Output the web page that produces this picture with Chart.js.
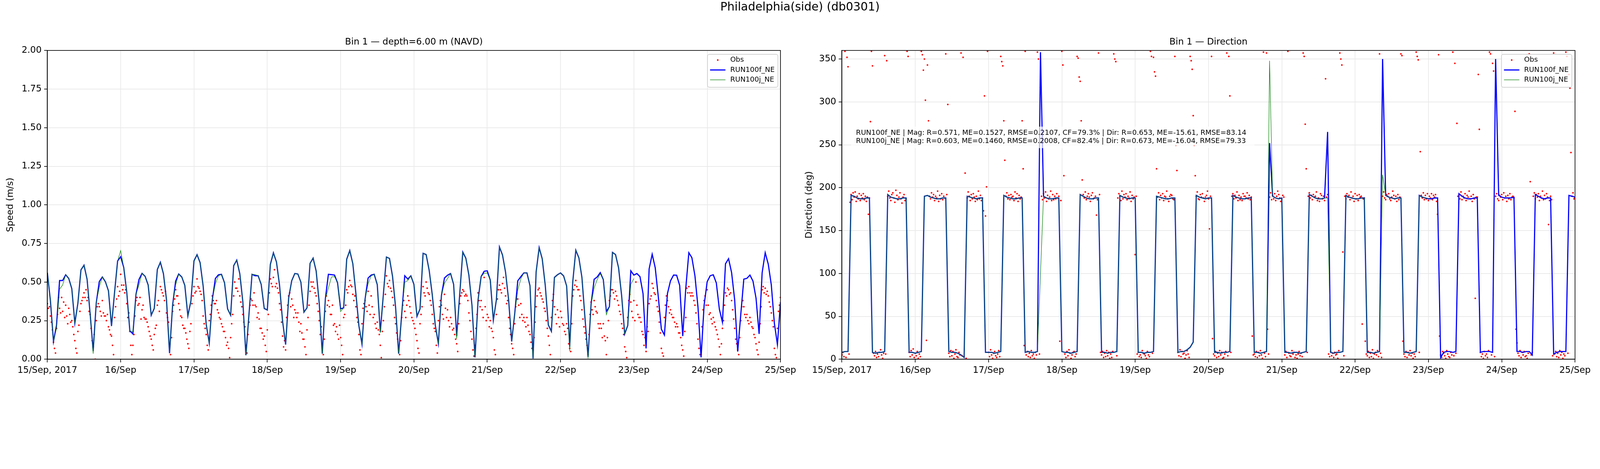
<!DOCTYPE html>
<html>
<head>
<meta charset="utf-8">
<title>Philadelphia(side) (db0301)</title>
<script src="https://cdn.jsdelivr.net/npm/chart.js@4.4.1/dist/chart.umd.min.js"></script>
<style>
  html, body { margin: 0; padding: 0; background: #fff; overflow: hidden; }
  #wrap { position: relative; overflow: hidden; }
  #page { position: absolute; left: 0; top: 0; width: 5000px; height: 1200px;
          transform-origin: 0 0; font-family: 'DejaVu Sans', sans-serif; }
  canvas { position: absolute; top: 0; }
  #speedChart { left: 0; }
  #dirChart { left: 2500px; }
  #suptitle { position: absolute; left: 0; top: 0; width: 5000px; text-align: center;
              font-size: 36px; line-height: 42px; color: #000; }
</style>
</head>
<body>
<div id="wrap">
  <div id="page">
    <canvas id="speedChart" width="2500" height="1200"></canvas>
    <canvas id="dirChart" width="2500" height="1200"></canvas>
    <div id="suptitle">Philadelphia(side) (db0301)</div>
  </div>
</div>
<script>
const FONT = "'DejaVu Sans', sans-serif";
const GRID = '#e8e8e8';

// x axis: hours since 15/Sep 00:00, one label per day
const dayLabels = ['15/Sep, 2017', '16/Sep', '17/Sep', '18/Sep', '19/Sep', '20/Sep',
                   '21/Sep', '22/Sep', '23/Sep', '24/Sep', '25/Sep'];

// model speed (m/s), hourly
const speedF = [
  .56,.38,.115,.22,.51,.51,.547,.523,.457,.234,.364,.579,
  .609,.519,.295,.053,.364,.503,.533,.502,.443,.215,.433,.637,
  .664,.595,.433,.184,.164,.419,.517,.556,.537,.481,.285,.329,
  .581,.628,.554,.385,.039,.35,.506,.552,.533,.478,.281,.378,
  .637,.677,.626,.474,.226,.105,.385,.523,.547,.55,.495,.326,
  .285,.606,.642,.554,.371,.026,.29,.55,.541,.541,.485,.329,
  .319,.614,.689,.63,.481,.247,.095,.398,.509,.555,.552,.499,
  .305,.333,.621,.655,.571,.364,.036,.39,.55,.548,.545,.495,
  .326,.333,.648,.704,.619,.426,.215,.098,.388,.526,.545,.55,
  .483,.177,.42,.662,.653,.537,.336,.036,.29,.541,.519,.54,
  .485,.278,.326,.686,.678,.575,.419,.219,.102,.412,.526,.544,
  .555,.485,.15,.423,.694,.654,.544,.35,.012,.385,.535,.57,
  .573,.512,.253,.385,.727,.675,.564,.385,.115,.295,.508,.535,
  .559,.559,.476,.005,.564,.723,.651,.478,.222,.181,.53,.547,
  .559,.54,.474,.081,.502,.706,.657,.53,.267,.015,.357,.518,
  .533,.561,.516,.309,.34,.692,.678,.592,.412,.164,.218,.573,
  .545,.555,.535,.426,.07,.585,.68,.592,.405,.195,.157,.426,
  .508,.545,.544,.478,.15,.46,.69,.657,.54,.336,.012,.35,
  .502,.541,.547,.494,.323,.24,.618,.651,.561,.385,.05,.29,
  .519,.524,.545,.506,.395,.164,.561,.69,.616,.481,.233,.095,
  .371
];
const speedJ = [
  .56,.38,.115,.20,.454,.481,.547,.523,.457,.234,.364,.579,
  .609,.519,.295,.036,.364,.468,.533,.502,.443,.215,.433,.637,
  .704,.595,.433,.184,.177,.419,.481,.556,.537,.481,.285,.329,
  .581,.628,.554,.385,.039,.35,.481,.552,.533,.478,.281,.378,
  .637,.677,.626,.474,.226,.105,.385,.488,.54,.55,.495,.326,
  .285,.606,.642,.554,.371,.026,.29,.55,.548,.541,.485,.329,
  .319,.614,.689,.63,.481,.247,.095,.398,.509,.555,.552,.499,
  .305,.333,.621,.655,.571,.364,.036,.39,.461,.533,.535,.495,
  .309,.333,.648,.704,.619,.426,.215,.098,.388,.488,.54,.55,
  .483,.171,.42,.662,.653,.537,.336,.036,.29,.499,.51,.54,
  .485,.278,.326,.686,.678,.575,.419,.219,.102,.412,.492,.523,
  .555,.485,.133,.423,.694,.654,.544,.35,.012,.385,.535,.557,
  .559,.512,.253,.385,.727,.675,.564,.385,.115,.295,.447,.521,
  .559,.559,.476,.005,.564,.723,.651,.478,.222,.181,.53,.547,
  .559,.54,.474,.053,.502,.706,.657,.53,.267,.005,.357,.461,
  .516,.554,.516,.288,.34,.692,.678,.592,.412,.164,.218,.485,
  .523
];

// model direction (deg), hourly
const dirF = [
  8,9,9, 191,190,188,187,187,188,188, 8,7,8,8,9, 192,189,188,187,187,188,188, 8,8,7,8,9,
  190,191,189,188,187,187,188,188, 9,8,8,7,5,2, 190,189,188,187,188,188, 8,8,8,7,8,9,
  191,189,188,187,187,188,188, 8,9,8,8,9, 358,190,188,187,187,188,188, 9,8,8,7,8,9,
  192,190,188,187,187,188,188, 8,8,7,8,8,9, 191,189,188,187,188,188, 8,8,7,8,8,9,
  190,189,188,187,187,188,188, 8,9,9,11,14,20, 191,189,188,187,188,188, 8,8,7,8,8,9,
  191,189,188,187,187,188,188, 8,8,7,8,9, 252,190,188,187,188, 8,8,7,8,8,7,8,9,
  192,190,188,187,187,188,265, 8,7,8,8,9, 191,189,188,187,187,188,188, 8,8,7,8,9,
  350,191,189,188,187,188,188, 8,8,7,8,9, 191,189,188,187,187,188,188, 2,8,9,9,8,9,
  193,190,188,187,187,188,188, 8,9,9,9,8, 350,191,189,188,188,188,189, 9,9,8,9,9,5,
  192,190,188,187,188,188, 6,8,9,9,9, 191,190,189
];
const dirJ = [
  8,9,9, 191,190,188,187,187,188,188, 8,7,8,8,9, 192,189,188,187,187,188,188, 8,8,7,8,9,
  190,191,189,188,187,187,188,188, 9,8,8,7,5,2, 190,189,188,187,188,188, 8,8,8,7,8,9,
  191,189,188,187,187,188,188, 8,9,8,8,9, 100,190,188,187,187,188,188, 9,8,8,7,8,9,
  192,190,188,187,187,188,188, 8,8,7,8,8,9, 191,189,188,187,188,188, 8,8,7,8,8,9,
  190,189,188,187,187,188,188, 8,9,9,11,14,20, 191,189,188,187,188,188, 8,8,7,8,8,9,
  191,189,188,187,187,188,188, 8,8,7,8,9, 348,190,188,187,188, 8,8,7,8,8,7,8,9,
  192,190,188,187,187,188,188, 8,7,8,8,9, 191,189,188,187,187,188,188, 8,8,7,8,9,
  215,191,189,188,187,188,188, 8,8,7,8,9, 191,189,188,187
];

// observations, every 20 min
const obsSpeed = [
  .36,.33,.34, .28,.24,.19, .11,.07,.04, .20,.29,.40,
  .33,.30,.40, .31,.37,.27, .35,.28,.23, .33,.29,.24,
  .25,.21,.16, .12,.07,.04, .18,.22,.31, .36,.38,.40,
  .43,.40,.45, .38,.40,.31, .29,.20,.12, .08,.16,.00,
  .25,.34,.36, .34,.31,.28, .38,.30,.28, .28,.25,.29,
  .21,.19,.16, .15,.09,.03, .27,.34,.39, .47,.41,.44,
  .55,.48,.45, .48,.43,.45, .36,.27,.30, .18,.09,.03,
  .09,.16,.28, .38,.40,.35, .36,.40,.26, .32,.35,.27,
  .26,.26,.24, .21,.18,.15, .13,.09,.06, .16,.20,.22,
  .35,.38,.31, .47,.45,.43, .41,.38,.44, .30,.27,.24,
  .08,.03,.14, .31,.35,.39, .45,.41,.41, .36,.32,.28,
  .27,.22,.20, .20,.17,.13, .10,.07,.18, .23,.36,.41,
  .47,.43,.44, .52,.47,.46, .44,.42,.38, .28,.23,.20,
  .16,.09,.06, .25,.29,.35, .41,.38,.36, .36,.38,.32,
  .30,.27,.26, .23,.21,.18, .18,.14,.09, .11,.07,.01,
  .14,.23,.29, .41,.50,.46, .46,.44,.52, .41,.37,.34,
  .29,.24,.21, .09,.04,.16, .24,.35,.39, .38,.35,.43,
  .35,.34,.27, .30,.26,.20, .20,.17,.13, .15,.09,.05,
  .19,.29,.43, .52,.49,.47, .53,.58,.47, .49,.46,.43,
  .36,.32,.24, .15,.08,.12, .06,.27,.35, .41,.43,.34,
  .39,.35,.27, .32,.30,.27, .30,.24,.18, .23,.17,.13,
  .13,.08,.03, .19,.27,.35, .44,.50,.47, .50,.46,.43,
  .41,.36,.31, .25,.16,.21, .09,.03,.13, .31,.41,.35,
  .38,.34,.29, .29,.35,.22, .23,.18,.21, .16,.13,.22,
  .14,.09,.03, .27,.29,.35, .45,.43,.47, .51,.48,.47,
  .42,.38,.41, .34,.27,.24, .16,.06,.03, .23,.33,.36,
  .38,.34,.31, .44,.35,.29, .41,.34,.27, .29,.23,.20,
  .24,.19,.16, .09,.01,.18, .25,.34,.42, .54,.49,.47,
  .51,.46,.44, .40,.35,.27, .23,.17,.13, .08,.03,.12,
  .27,.35,.38, .31,.27,.35, .41,.38,.34, .30,.27,.25,
  .23,.20,.16, .12,.07,.04, .23,.29,.34, .47,.43,.41,
  .50,.46,.43, .42,.38,.35, .29,.23,.20, .18,.09,.04,
  .25,.34,.38, .35,.29,.26, .42,.33,.27, .32,.25,.21,
  .27,.23,.19, .20,.16,.13, .10,.05,.23, .36,.41,.43,
  .45,.44,.41, .42,.41,.38, .30,.25,.18, .13,.06,.02,
  .09,.20,.29, .43,.38,.34, .38,.32,.27, .53,.34,.25,
  .29,.27,.21, .25,.20,.18, .14,.06,.03, .29,.39,.45,
  .48,.45,.43, .49,.53,.46, .41,.36,.38, .27,.20,.16,
  .10,.07,.03, .23,.34,.39, .39,.35,.27, .36,.29,.25,
  .27,.24,.21, .27,.22,.18, .16,.11,.07, .06,.14,.24,
  .34,.41,.45, .46,.43,.41, .39,.37,.33, .31,.25,.20,
  .15,.09,.03, .27,.38,.42, .34,.29,.23, .32,.27,.21,
  .31,.27,.23, .22,.18,.16, .23,.20,.10, .07,.05,.23,
  .41,.45,.48, .51,.47,.45, .45,.41,.38, .32,.26,.21,
  .17,.13,.09, .03,.16,.29, .37,.32,.29, .38,.34,.31,
  .30,.23,.20, .23,.20,.14, .23,.15,.12, .03,.14,.25,
  .38,.41,.45, .45,.43,.39, .44,.41,.38, .35,.31,.29,
  .23,.20,.16, .08,.05,.01, .27,.38,.42, .37,.31,.27,
  .38,.25,.50, .35,.29,.27, .27,.24,.18, .16,.09,.14,
  .05,.21,.18, .36,.39,.41, .49,.46,.43, .42,.38,.34,
  .31,.24,.17, .07,.04,.02, .27,.35,.41, .38,.34,.30,
  .32,.29,.27, .27,.24,.21, .23,.21,.17, .17,.14,.09,
  .06,.02,.18, .27,.46,.43, .47,.43,.41, .43,.41,.38,
  .35,.30,.23, .13,.07,.03, .03,.21,.32, .38,.41,.35,
  .45,.35,.29, .30,.26,.23, .27,.24,.21, .19,.16,.13,
  .08,.03,.10, .20,.25,.35, .43,.41,.46, .45,.42,.43,
  .38,.32,.26, .20,.13,.10, .06,.03,.14, .25,.34,.38,
  .34,.29,.27, .29,.25,.23, .27,.24,.21, .20,.16,.14,
  .10,.06,.03, .11,.23,.34, .45,.47,.43, .46,.42,.44,
  .41,.37,.34, .30,.25,.21, .07,.03,.01, .20,.31,.35,
  .40
];
const obsDir = [
  5,8,3, 359,2,352, 341,6,183, 192,186,194,
  189,195,184, 190,187,193, 185,191,188, 193,186,190,
  184,189,169, 188,277,359, 342,7,4, 9,2,6,
  3,8,11, 5,1,7, 354,6,348, 190,196,188,
  185,192,194, 188,183,197, 191,186,189, 194,187,182,
  189,192,185, 187,359,353, 8,3,10, 5,12,2,
  7,4,9, 1,6,3, 359,355,337, 350,302,22,
  343,278,190, 187,194,189, 192,185,190, 188,196,184,
  191,187,193, 186,190,188, 356,192,297, 7,3,10,
  4,9,1, 6,11,3, 2,8,5, 357,4,352,
  3,217,1, 188,195,190, 185,192,187, 193,189,184,
  190,186,196, 187,191,185, 188,173,307, 167,201,359,
  8,3,11, 5,1,7, 9,4,2, 6,10,3,
  353,347,342, 278,232,190, 194,187,191, 186,192,189,
  190,185,195, 188,193,184, 191,187,189, 278,222,16,
  359,5,9, 3,7,2, 10,4,6, 1,8,5,
  358,350,6, 317,190,186, 193,188,195, 184,191,187,
  189,196,185, 192,186,190, 187,193,188, 190,21,185,
  359,343,214, 6,2,9, 4,11,7, 1,5,8,
  9,3,6, 353,351,329, 324,278,209, 192,188,195,
  186,190,193, 189,184,191, 194,187,188, 190,168,186,
  357,192,8, 5,9,2, 7,3,10, 4,8,1,
  6,2,9, 356,350,347, 4,188,193, 190,185,196,
  187,192,189, 193,186,190, 188,195,184, 191,187,189,
  122,190,6, 8,3,5, 2,10,7, 6,4,1,
  9,5,3, 359,353,7, 352,335,330, 222,189,194,
  186,191,188, 193,185,190, 189,196,187, 184,190,192,
  191,187,186, 353,249,220, 8,4,11, 3,9,6,
  7,1,5, 10,6,2, 353,348,338, 284,249,214,
  190,195,187, 186,192,189, 193,188,184, 189,191,196,
  187,152,190, 353,24,6, 4,9,2, 7,3,10,
  5,8,1, 2,6,9, 357,4,353, 307,8,190,
  193,187,191, 188,195,185, 191,186,189, 185,193,190,
  190,188,194, 187,191,186, 189,27,5, 6,3,9,
  2,8,4, 10,5,1, 358,7,3, 357,35,6,
  189,194,186, 191,187,193, 185,190,196, 192,188,184,
  187,191,189, 5,9,2, 359,7,4, 3,10,6,
  8,2,5, 1,6,9, 4,7,3, 357,353,274,
  222,8,190, 194,188,191, 186,192,189, 190,195,185,
  188,184,193, 191,187,190, 185,327,189, 192,6,3,
  9,4,7, 2,8,5, 6,1,10, 357,350,343,
  125,4,190, 187,193,189, 191,186,195, 188,190,184,
  193,187,191, 185,192,189, 190,41,187, 188,21,6,
  4,9,2, 7,3,11, 1,6,8, 5,10,3,
  356,7,2, 190,195,188, 186,192,190, 193,187,185,
  189,196,191, 187,190,184, 192,186,189, 356,354,21,
  6,3,9, 2,8,5, 10,4,7, 1,6,3,
  358,353,349, 8,242,191, 188,194,186, 191,187,193,
  185,190,188, 193,186,191, 189,192,184, 169,355,27,
  5,2,9, 7,4,1, 10,6,3, 2,8,5,
  358,4,345, 7,275,190, 192,187,195, 186,190,188,
  193,185,191, 189,196,187, 190,184,192, 187,71,189,
  189,332,268, 8,3,6, 1,9,4, 6,2,10,
  358,356,5, 345,336,3, 190,193,187, 185,191,189,
  192,186,194, 188,190,184, 191,187,193, 186,189,190,
  188,289,35, 19,7,4, 10,2,8, 5,9,3,
  4,1,7, 356,207,5, 8,190,194, 187,192,189,
  193,185,190, 188,196,186, 191,187,193, 189,157,185,
  190,186,4, 357,6,9, 3,7,2, 10,5,8,
  1,6,4, 358,353,7, 332,316,241, 190,194,187,
  188
];

const statsLines = [
  'RUN100f_NE | Mag: R=0.571, ME=0.1527, RMSE=0.2107, CF=79.3% | Dir: R=0.653, ME=-15.61, RMSE=83.14',
  'RUN100j_NE | Mag: R=0.603, ME=0.1460, RMSE=0.2008, CF=82.4% | Dir: R=0.673, ME=-16.04, RMSE=79.33'
];

// fit the 5000x1200 figure to whatever the viewport really is
const fit = (window.innerWidth || 5000) / 5000;
const wrap = document.getElementById('wrap');
wrap.style.width = (5000 * fit) + 'px';
wrap.style.height = (1200 * fit) + 'px';
document.getElementById('page').style.transform = 'scale(' + fit + ')';
const DPR = (window.devicePixelRatio || 1) * fit;

function hourly(vals) { return vals.map((v, i) => ({ x: i, y: v })); }
function every20(vals) { return vals.map((v, i) => ({ x: i / 3, y: v })); }

function makeDatasets(obs, runF, runJ) {
  return [
    { label: 'Obs', data: every20(obs), showLine: false, pointRadius: 2.6, pointBorderWidth: 0,
      pointBackgroundColor: '#ff0000', borderColor: '#ff0000', order: 3 },
    { label: 'RUN100f_NE', data: hourly(runF), borderColor: '#0000ff', borderWidth: 3.6,
      pointRadius: 0, order: 2 },
    { label: 'RUN100j_NE', data: hourly(runJ), borderColor: '#008000', borderWidth: 1.5,
      pointRadius: 0, order: 1 }
  ];
}

function rrect(ctx, x, y, w, h, r) {
  ctx.beginPath();
  if (ctx.roundRect) ctx.roundRect(x, y, w, h, r); else ctx.rect(x, y, w, h);
}

const framePlugin = {
  id: 'frame',
  afterDraw(chart) {
    const { ctx, chartArea: a } = chart;
    ctx.save();
    ctx.strokeStyle = '#000';
    ctx.lineWidth = 2;
    ctx.strokeRect(a.left, a.top, a.right - a.left, a.bottom - a.top);
    ctx.restore();
  }
};

function boxLegend(rightInset) {
  return {
    id: 'boxLegend',
    afterDraw(chart) {
      const { ctx, chartArea: a } = chart;
      const w = 220, h = 103;
      const x0 = a.right - rightInset - w, y0 = a.top + 12;
      ctx.save();
      rrect(ctx, x0, y0, w, h, 6);
      ctx.fillStyle = 'rgba(255,255,255,0.8)';
      ctx.fill();
      ctx.strokeStyle = '#cccccc';
      ctx.lineWidth = 2;
      ctx.stroke();
      ctx.font = '22px ' + FONT;
      ctx.textBaseline = 'middle';
      chart.data.datasets.forEach((ds, i) => {
        const cy = y0 + 18 + i * 31;
        const hx = x0 + 8;
        if (ds.showLine === false) {
          ctx.beginPath();
          ctx.arc(hx + 24, cy, ds.pointRadius, 0, 2 * Math.PI);
          ctx.fillStyle = ds.pointBackgroundColor;
          ctx.fill();
        } else {
          ctx.beginPath();
          ctx.moveTo(hx, cy);
          ctx.lineTo(hx + 48, cy);
          ctx.strokeStyle = ds.borderColor;
          ctx.lineWidth = ds.borderWidth;
          ctx.stroke();
        }
        ctx.fillStyle = '#000';
        ctx.fillText(ds.label, hx + 63, cy);
      });
      ctx.restore();
    }
  };
}

const statsPlugin = {
  id: 'stats',
  afterDatasetsDraw(chart) {
    const { ctx, chartArea: a } = chart;
    ctx.save();
    rrect(ctx, a.left + 29, a.top + 238, 1260, 67, 6);
    ctx.fillStyle = 'rgba(255,255,255,0.7)';
    ctx.fill();
    ctx.font = '22px ' + FONT;
    ctx.fillStyle = '#000';
    ctx.textBaseline = 'middle';
    statsLines.forEach((t, i) => ctx.fillText(t, a.left + 44, a.top + 258 + i * 25));
    ctx.restore();
  }
};

function makeScales(yTitle, titlePad, yWidth, yMax, yStep, yFmt) {
  const tickFont = { family: FONT, size: 28 };
  const grid = { color: GRID, lineWidth: 2, tickColor: '#000', tickLength: 10, tickWidth: 2 };
  const border = { color: '#000', width: 2 };
  return {
    x: {
      type: 'linear', min: 0, max: 240,
      afterFit(s) { s.height = 78; },
      ticks: {
        stepSize: 24, autoSkip: false, maxRotation: 0, minRotation: 0, padding: 8,
        color: '#000', font: tickFont,
        callback: v => (v % 24 === 0 ? dayLabels[v / 24] : '')
      },
      grid: grid, border: border
    },
    y: {
      type: 'linear', min: 0, max: yMax,
      afterFit(s) { s.width = yWidth; },
      ticks: { stepSize: yStep, includeBounds: false, padding: 8, color: '#000', font: tickFont, callback: yFmt },
      grid: grid, border: border,
      title: { display: true, text: yTitle, color: '#000', font: tickFont, padding: { top: titlePad, bottom: 0 } }
    }
  };
}

function makeOptions(title, rightPad, scales) {
  return {
    animation: false,
    responsive: false,
    devicePixelRatio: DPR,
    events: [],
    layout: { padding: { left: 0, right: rightPad, top: 0, bottom: 0 } },
    elements: { line: { tension: 0 } },
    plugins: {
      legend: { display: false },
      tooltip: { enabled: false },
      title: {
        display: true, text: title, fullSize: false, color: '#000',
        font: { family: FONT, size: 28, weight: 'normal' },
        padding: { top: 115, bottom: 9 }
      }
    },
    scales: scales
  };
}

new Chart(document.getElementById('speedChart'), {
  type: 'line',
  data: { datasets: makeDatasets(obsSpeed, speedF, speedJ) },
  options: makeOptions('Bin 1 \u2014 depth=6.00 m (NAVD)', 61,
    makeScales('Speed (m/s)', 16, 148, 2, 0.25, v => v.toFixed(2))),
  plugins: [framePlugin, boxLegend(8)]
});

new Chart(document.getElementById('dirChart'), {
  type: 'line',
  data: { datasets: makeDatasets(obsDir, dirF, dirJ) },
  options: makeOptions('Bin 1 \u2014 Direction', 78,
    makeScales('Direction (deg)', 12, 131, 360, 50, v => String(v))),
  plugins: [statsPlugin, framePlugin, boxLegend(10)]
});
</script>
</body>
</html>
